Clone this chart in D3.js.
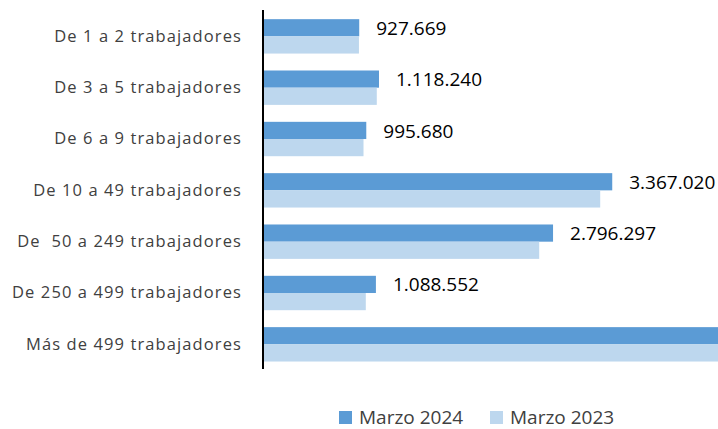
<!DOCTYPE html>
<html>
<head>
<meta charset="utf-8">
<script src="https://cdn.jsdelivr.net/npm/d3@7"></script>
<style>
  html, body { margin: 0; padding: 0; background: #fff; }
  svg { display: block; }
  text { white-space: pre; }
</style>
</head>
<body>
<svg id="chart" width="718" height="429"></svg>
<script>
const categories = [
  "De 1 a 2 trabajadores",
  "De 3 a 5 trabajadores",
  "De 6 a 9 trabajadores",
  "De 10 a 49 trabajadores",
  "De  50 a 249 trabajadores",
  "De 250 a 499 trabajadores",
  "Más de 499 trabajadores"
];
const seriesNames = ["Marzo 2024", "Marzo 2023"];
const values2024 = [927669, 1118240, 995680, 3367020, 2796297, 1088552, 5660000];
const values2023 = [925000, 1097000, 969000, 3251000, 2663000, 991000, 5450000];
const colors = ["#5B9BD5", "#BDD7EE"];

const svg = d3.select("#chart");
const W = 718, H = 429;
const x0 = 263;
const pxPerUnit = 1 / 9641;
const domainMax = 5000000;

const x = d3.scaleLinear().domain([0, domainMax]).range([x0, x0 + domainMax * pxPerUnit]);
const y = d3.scaleBand().domain(categories).range([10.7, 370]).paddingInner(0.33).paddingOuter(0.165);
const ySub = d3.scaleBand().domain(seriesNames).range([0, y.bandwidth()]);

const locale = d3.formatLocale({ decimal: ",", thousands: ".", grouping: [3], currency: ["", "€"] });
const fmt = locale.format(",d");

const rows = categories.map((c, i) => ({ cat: c, vals: [values2024[i], values2023[i]] }));

const groups = svg.append("g").selectAll("g").data(rows).join("g")
  .attr("transform", d => `translate(0,${y(d.cat)})`);

groups.selectAll("rect").data(d => d.vals.map((v, j) => ({ v, s: seriesNames[j], j })))
  .join("rect")
  .attr("x", x(0))
  .attr("y", d => ySub(d.s))
  .attr("width", d => Math.min(x(d.v), W) - x(0))
  .attr("height", ySub.bandwidth())
  .attr("fill", d => colors[d.j]);

// value labels for Marzo 2024 (the last one lies beyond the visible frame, as in the reference)
groups.filter(d => x(d.vals[0]) + 100 < W).append("text")
  .attr("x", d => x(d.vals[0]) + 17)
  .attr("y", ySub(seriesNames[0]) + ySub.bandwidth() / 2 + 2)
  .attr("dominant-baseline", "middle")
  .attr("font-family", "'Open Sans', sans-serif")
  .attr("font-size", 19)
  .attr("fill", "#000")
  .text(d => fmt(d.vals[0]));

// category labels
svg.append("g").selectAll("text").data(categories).join("text")
  .attr("x", 242)
  .attr("y", d => y(d) + y.bandwidth() / 2 + 1)
  .attr("text-anchor", "end")
  .attr("dominant-baseline", "middle")
  .attr("font-family", "'Open Sans', sans-serif")
  .attr("font-size", 16.5)
  .attr("letter-spacing", 1.1)
  .attr("fill", "#404040")
  .text(d => d);

// axis line
const yAxis = d3.axisLeft(y).tickSize(0).tickFormat("");
svg.append("g").attr("transform", `translate(${x0},0)`).call(yAxis)
  .call(g => g.select(".domain").attr("d", "M0,10V369").attr("stroke", "#000").attr("stroke-width", 2));

// legend
const legendX = [339, 490];
const leg = svg.append("g").selectAll("g").data(seriesNames).join("g")
  .attr("transform", (d, i) => `translate(${legendX[i]},411)`);
leg.append("rect").attr("width", 13).attr("height", 13).attr("fill", (d, i) => colors[i]);
leg.append("text")
  .attr("x", 20).attr("y", 12.8)
  .attr("font-family", "'Open Sans', sans-serif")
  .attr("font-size", 19)
  .attr("fill", "#404040")
  .text(d => d);
</script>
</body>
</html>
